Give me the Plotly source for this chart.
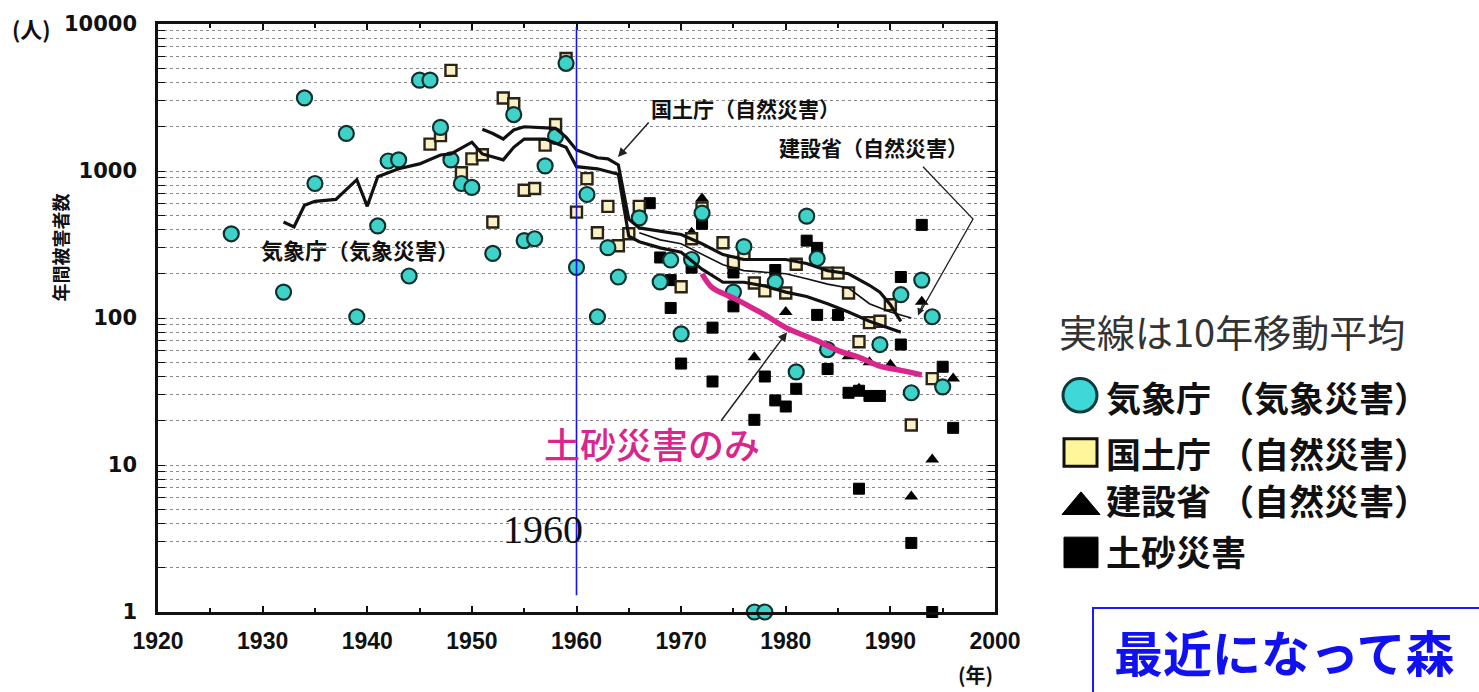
import plotly.graph_objects as go

# ---------------- data ----------------
# 気象庁 (気象災害) – circles
ky_year = [1927,1932,1934,1935,1938,1939,1941,1942,1943,1944,1945,1946,1947,1948,1949,1950,1952,1954,1955,1956,1957,1958,1959,1960,1961,1962,1963,1964,1966,1968,1969,1970,1971,1972,1975,1976,1977,1978,1979,1981,1982,1983,1984,1989,1991,1992,1993,1994,1995]
ky_val = [374,150,3140,822,1800,102,423,1170,1190,193,4150,4150,1980,1190,822,773,275,2420,336,346,1084,1722,5400,221,692,102,301,190,480,176,248,78,250,517,150,306,1,1,176,43,493,254,61,66,144,31,181,102,34]

# 国土庁 (自然災害) – open squares
kd_year = [1946,1947,1948,1949,1950,1951,1952,1953,1954,1955,1956,1957,1958,1959,1960,1961,1962,1963,1964,1965,1966,1970,1971,1972,1974,1975,1976,1977,1978,1980,1981,1984,1985,1986,1987,1988,1989,1990,1992,1994]
kd_val = [1523,1740,4840,973,1210,1290,450,3140,2870,740,760,1500,2070,5820,525,888,380,575,310,374,575,163,346,560,325,239,274,173,153,148,232,202,202,148,69,93,95,123,18.7,38.7]

# 建設省 (自然災害) – triangles
kc_year = [1971,1972,1975,1977,1980,1985,1986,1987,1988,1990,1992,1993,1994,1996]
kc_val = [380,650,210,54,110,105,55,33,50,48,6.1,129,10.9,38.7]

# 土砂災害 – black squares
ds_year = [1967,1968,1969,1969,1970,1971,1972,1973,1973,1975,1975,1977,1978,1979,1979,1980,1981,1982,1983,1983,1984,1985,1986,1987,1987,1988,1989,1991,1991,1992,1993,1994,1995,1996]
ds_val = [604,258,181,117,49,220,437,86,37,120,204,20.3,40,212,27.5,25,33,336,300,105,45,105,31,32,6.9,29.5,29.5,190,66,2.95,430,1,46.6,17.9]

# 10-year moving averages
ma_kisho_year = [1932,1933,1934,1935,1937,1939,1940,1941,1943,1945,1947,1948,1950,1951,1953,1954,1955,1957,1959,1960,1962,1964,1965,1966,1968,1970,1972,1974,1976,1978,1980,1982,1984,1986,1988,1990,1991]
ma_kisho_val = [450,417,585,622,641,873,575,915,1035,1118,1285,1306,1570,1306,1190,1450,1650,1650,1450,1070,1035,950,360,330,300,280,215,175,175,165,150,140,125,110,95,85,80]

ma_kokudo_year = [1951,1952,1953,1954,1955,1957,1958,1959,1960,1962,1963,1964,1965,1966,1968,1970,1972,1974,1976,1978,1980,1982,1984,1986,1988,1989,1990,1991]
ma_kokudo_val = [1920,1800,1650,1900,2000,1980,1950,1700,1390,1230,1210,1100,470,410,390,370,320,270,250,250,250,235,210,200,167,150,123,95]

ma_kensetsu_year = [1966,1968,1970,1972,1974,1976,1978,1980,1982,1984,1986,1988,1990,1992]
ma_kensetsu_val = [380,340,320,270,230,210,205,200,185,170,160,125,110,100]

# 土砂災害のみ (moving average)
dsma_year = [1972,1973,1975,1977,1978,1980,1981,1983,1985,1987,1989,1991,1993]
dsma_val = [200,160,137,115,105,86,80,70,60,54,47,44,41]

x_ticks = [1920,1930,1940,1950,1960,1970,1980,1990,2000]

# ---------------- layout helpers ----------------
W, H = 1479, 692
L, R, T, B = 158, 484, 15, 80
PW = W - L - R
PH = H - T - B

def px(x):
    return (x - L) / PW

def py(y):
    return (H - B - y) / PH

JP = "Noto Sans CJK JP"

y_tickvals = [m * 10 ** k for k in range(4) for m in range(1, 10)] + [10000]
y_ticktext = [str(v) if str(v).startswith("1") and set(str(v)[1:]) <= {"0"} else "" for v in y_tickvals]

fig = go.Figure()

fig.add_trace(go.Scatter(x=ds_year, y=ds_val, mode="markers", cliponaxis=False,
                         marker=dict(symbol="square", size=11, color="black",
                                     line=dict(color="black", width=1))))
fig.add_trace(go.Scatter(x=kc_year, y=kc_val, mode="markers", cliponaxis=False,
                         marker=dict(symbol="triangle-up", size=12, color="black")))
fig.add_trace(go.Scatter(x=kd_year, y=kd_val, mode="markers", cliponaxis=False,
                         marker=dict(symbol="square", size=11, color="#fbf1c6",
                                     line=dict(color="#2a2418", width=2.4))))
fig.add_trace(go.Scatter(x=ky_year, y=ky_val, mode="markers", cliponaxis=False,
                         marker=dict(symbol="circle", size=15, color="#3fd2c9",
                                     line=dict(color="#10302e", width=2.2))))

for xs, ys, w in [(ma_kisho_year, ma_kisho_val, 3.2),
                  (ma_kokudo_year, ma_kokudo_val, 3.2),
                  (ma_kensetsu_year, ma_kensetsu_val, 1.6)]:
    fig.add_trace(go.Scatter(x=xs, y=ys, mode="lines",
                             line=dict(color="#111", width=w)))

fig.add_trace(go.Scatter(x=dsma_year, y=dsma_val, mode="lines",
                         line=dict(color="#d9268c", width=5.5, shape="spline")))

shapes = []
# 1960 blue vertical line
shapes.append(dict(type="line", xref="x", yref="paper", x0=1960, x1=1960,
                   y0=py(595), y1=py(18), line=dict(color="#1010ff", width=1.6)))
# 建設省 chevron pointer
shapes.append(dict(type="path", xref="paper", yref="paper",
                   path=f"M {px(923)},{py(160)} L {px(973)},{py(213)} L {px(920)},{py(308)}",
                   line=dict(color="#222", width=1.3)))
# legend symbols
shapes.append(dict(type="circle", xref="paper", yref="paper",
                   x0=px(1063), x1=px(1097), y0=py(409), y1=py(375),
                   fillcolor="#3fd8d8", line=dict(color="#0d3a3a", width=3)))
shapes.append(dict(type="rect", xref="paper", yref="paper",
                   x0=px(1064), x1=px(1097), y0=py(464), y1=py(436),
                   fillcolor="#fff59a", line=dict(color="#111", width=3)))
shapes.append(dict(type="path", xref="paper", yref="paper",
                   path=f"M {px(1062)},{py(513)} L {px(1100)},{py(513)} L {px(1081)},{py(490)} Z",
                   fillcolor="black", line=dict(color="black", width=1)))
shapes.append(dict(type="rect", xref="paper", yref="paper",
                   x0=px(1064), x1=px(1098), y0=py(567), y1=py(536),
                   fillcolor="black", line=dict(color="black", width=1)))
# blue box bottom right
shapes.append(dict(type="rect", xref="paper", yref="paper",
                   x0=px(1093), x1=px(1520), y0=py(720), y1=py(608),
                   line=dict(color="#1a1aff", width=2)))
fig.update_layout(shapes=shapes)

ann = []
def text(x, y, s, size, color="#111", weight="bold", family=JP, xanchor="center", angle=0):
    ann.append(dict(xref="paper", yref="paper", x=px(x), y=py(y), text=s, showarrow=False,
                    xanchor=xanchor, yanchor="middle", textangle=angle,
                    font=dict(family=family, size=size, color=color, weight=weight)))

text(360, 243, "気象庁（気象災害）", 22)
text(745, 100, "国土庁（自然災害）", 21)
text(873, 140, "建設省（自然災害）", 21)
text(652, 440, "土砂災害のみ", 36, color="#d9268c", weight=500)
text(543, 528, "1960", 40, color="#111", weight="normal", family="Liberation Serif")
text(31, 19, "(人)", 22)
text(60, 242, "年間被害者数", 18, angle=-90)
text(975, 675, "(年)", 20)
text(1057, 326, "実線は10年移動平均", 38, color="#333", weight="normal", xanchor="left")
text(1104, 393, "気象庁 （気象災害）", 35, xanchor="left")
text(1104, 450, "国土庁 （自然災害）", 35, xanchor="left")
text(1104, 498, "建設省 （自然災害）", 35, xanchor="left")
text(1104, 550, "土砂災害", 35, xanchor="left")
text(1112, 651, "最近になって森", 49, color="#1010f0", xanchor="left")

# arrows
ann.append(dict(xref="paper", yref="paper", x=px(618), y=py(150), ax=32, ay=-36,
                text="", showarrow=True, arrowhead=2, arrowsize=1.2, arrowwidth=1.5, arrowcolor="#222"))
ann.append(dict(xref="paper", yref="paper", x=px(787), y=py(328), ax=-67, ay=90,
                text="", showarrow=True, arrowhead=2, arrowsize=1.2, arrowwidth=1.5, arrowcolor="#222"))
ann.append(dict(xref="paper", yref="paper", x=px(918), y=py(311), ax=6, ay=-14,
                text="", showarrow=True, arrowhead=2, arrowsize=1.1, arrowwidth=1.3, arrowcolor="#222"))
fig.update_layout(annotations=ann)

fig.update_layout(
    width=W, height=H,
    margin=dict(l=L, r=R, t=T, b=B),
    paper_bgcolor="white", plot_bgcolor="white",
    showlegend=False,
    xaxis=dict(range=[1920, 2000], tickmode="array", tickvals=x_ticks,
               ticks="inside", ticklen=6, tickwidth=1.5, tickcolor="#111",
               minor=dict(dtick=5, ticks="inside", ticklen=4, tickcolor="#111"),
               showline=True, linecolor="#111", linewidth=2.5, mirror="ticks",
               showgrid=False, zeroline=False, ticklabelstandoff=7,
               tickfont=dict(family="Liberation Sans", size=23, color="#111", weight="bold")),
    yaxis=dict(type="log", range=[0, 4], tickmode="array",
               tickvals=y_tickvals, ticktext=y_ticktext,
               ticks="inside", ticklen=7, tickwidth=1, tickcolor="#111",
               showline=True, linecolor="#111", linewidth=2.5, mirror="ticks",
               showgrid=True, gridcolor="#8a8a8a", griddash="dot", gridwidth=1,
               zeroline=False, ticklabelstandoff=14,
               tickfont=dict(family="DejaVu Sans", size=21, color="#111", weight="bold")),
)

fig.write_html("out.html")
